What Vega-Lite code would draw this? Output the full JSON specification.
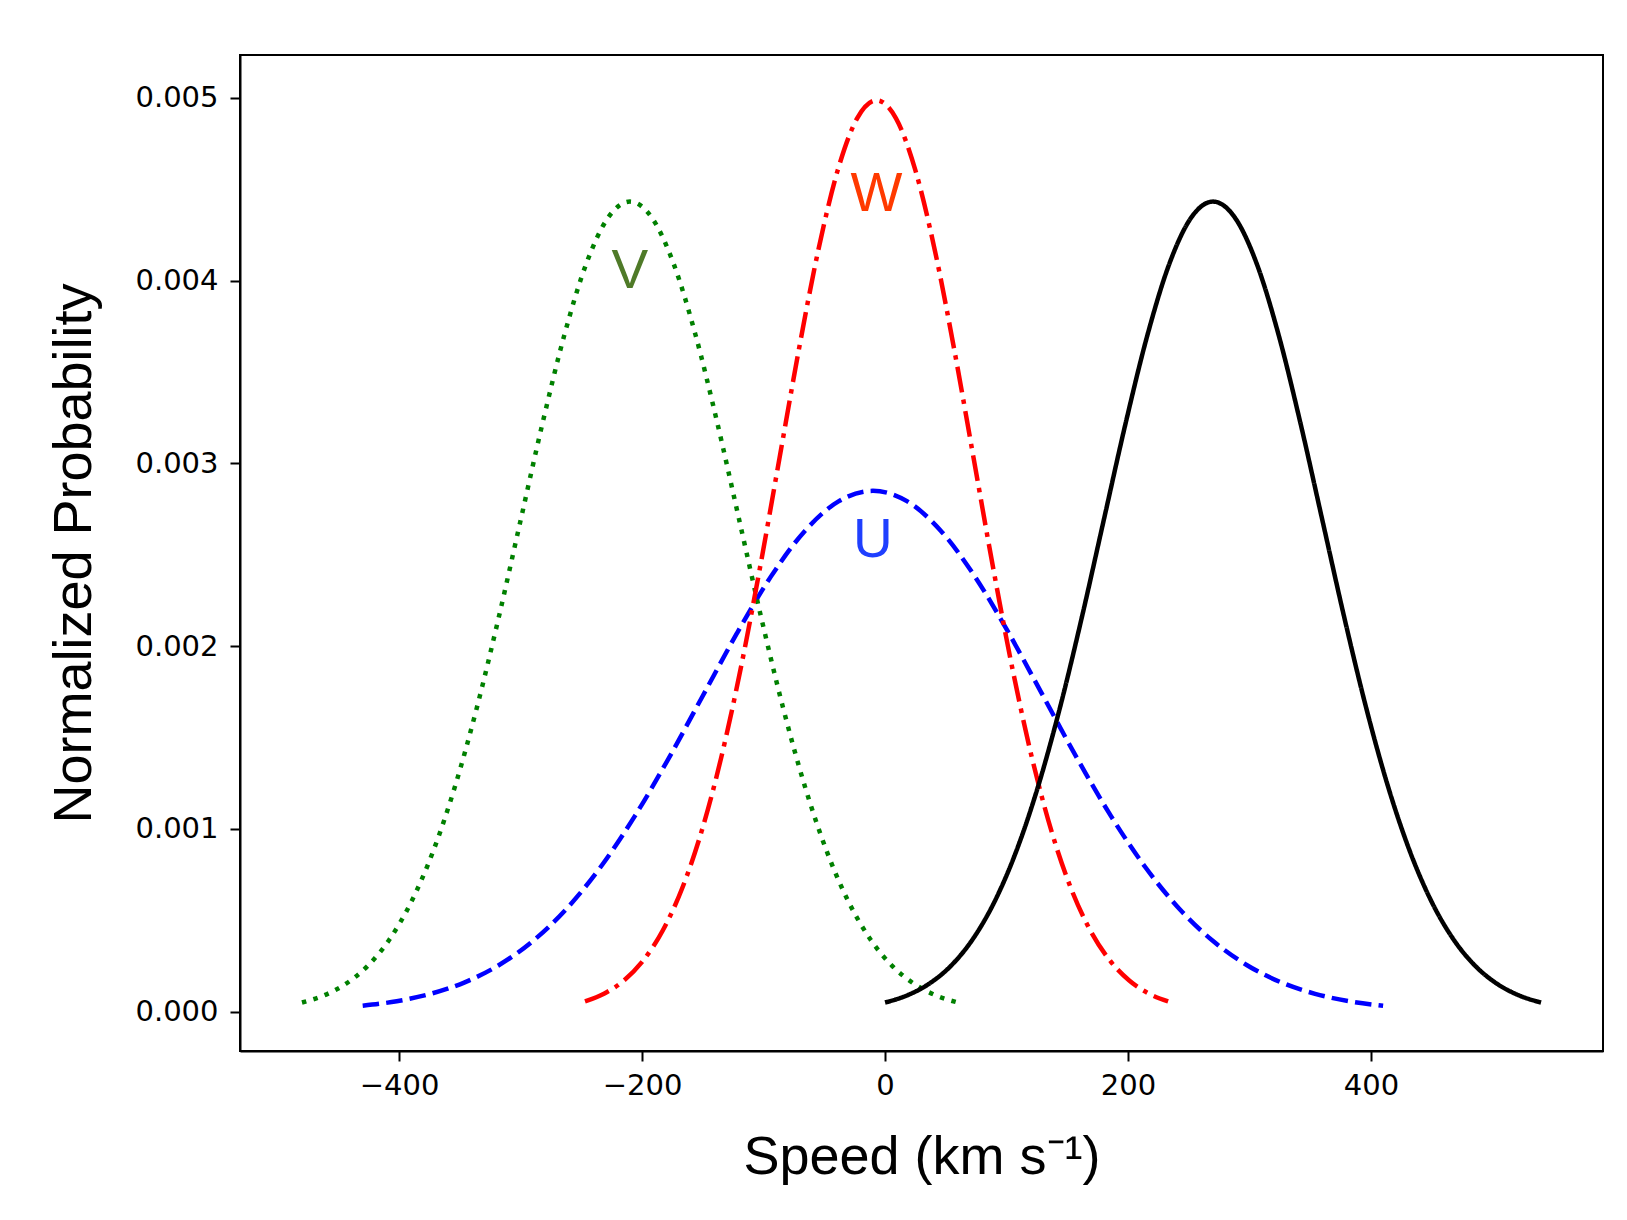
{
  "$schema": "https://vega.github.io/schema/vega-lite/v6.json",
  "width": 1363,
  "height": 996,
  "autosize": {"type": "none"},
  "padding": {"left": 240, "top": 55, "right": 24, "bottom": 169},
  "background": "white",
  "config": {
    "view": {"stroke": "black", "strokeWidth": 2},
    "axis": {
      "grid": false,
      "domainColor": "black",
      "domainWidth": 2,
      "tickColor": "black",
      "tickWidth": 2,
      "tickSize": 10,
      "labelFont": "DejaVu Sans",
      "labelFontSize": 29,
      "labelColor": "black",
      "labelOverlap": false,
      "titleFont": "Liberation Sans",
      "titleFontSize": 54,
      "titleFontWeight": "normal",
      "titleColor": "black"
    }
  },
  "datasets": {
    "curves": [
      {"s": "U", "x": -430, "y": 0.000031659},
      {"s": "U", "x": -402, "y": 0.000056536},
      {"s": "U", "x": -374, "y": 0.000097029},
      {"s": "U", "x": -346, "y": 0.00015995},
      {"s": "U", "x": -318, "y": 0.00025339},
      {"s": "U", "x": -290, "y": 0.00038567},
      {"s": "U", "x": -262, "y": 0.00056394},
      {"s": "U", "x": -234, "y": 0.00079231},
      {"s": "U", "x": -206, "y": 0.0010695},
      {"s": "U", "x": -178, "y": 0.001387},
      {"s": "U", "x": -150, "y": 0.0017284},
      {"s": "U", "x": -122, "y": 0.0020692},
      {"s": "U", "x": -94, "y": 0.0023802},
      {"s": "U", "x": -66, "y": 0.0026305},
      {"s": "U", "x": -38, "y": 0.0027932},
      {"s": "U", "x": -10, "y": 0.0028496},
      {"s": "U", "x": 18, "y": 0.0027932},
      {"s": "U", "x": 46, "y": 0.0026305},
      {"s": "U", "x": 74, "y": 0.0023802},
      {"s": "U", "x": 102, "y": 0.0020692},
      {"s": "U", "x": 130, "y": 0.0017284},
      {"s": "U", "x": 158, "y": 0.001387},
      {"s": "U", "x": 186, "y": 0.0010695},
      {"s": "U", "x": 214, "y": 0.00079231},
      {"s": "U", "x": 242, "y": 0.00056394},
      {"s": "U", "x": 270, "y": 0.00038567},
      {"s": "U", "x": 298, "y": 0.00025339},
      {"s": "U", "x": 326, "y": 0.00015995},
      {"s": "U", "x": 354, "y": 0.000097029},
      {"s": "U", "x": 382, "y": 0.000056536},
      {"s": "U", "x": 410, "y": 0.000031659},

      {"s": "V", "x": -480, "y": 0.000049247},
      {"s": "V", "x": -462, "y": 0.000087945},
      {"s": "V", "x": -444, "y": 0.00015093},
      {"s": "V", "x": -426, "y": 0.00024881},
      {"s": "V", "x": -408, "y": 0.00039416},
      {"s": "V", "x": -390, "y": 0.00059992},
      {"s": "V", "x": -372, "y": 0.00087723},
      {"s": "V", "x": -354, "y": 0.0012325},
      {"s": "V", "x": -336, "y": 0.0016636},
      {"s": "V", "x": -318, "y": 0.0021576},
      {"s": "V", "x": -300, "y": 0.0026886},
      {"s": "V", "x": -282, "y": 0.0032188},
      {"s": "V", "x": -264, "y": 0.0037025},
      {"s": "V", "x": -246, "y": 0.0040919},
      {"s": "V", "x": -228, "y": 0.0043449},
      {"s": "V", "x": -210, "y": 0.0044327},
      {"s": "V", "x": -192, "y": 0.0043449},
      {"s": "V", "x": -174, "y": 0.0040919},
      {"s": "V", "x": -156, "y": 0.0037025},
      {"s": "V", "x": -138, "y": 0.0032188},
      {"s": "V", "x": -120, "y": 0.0026886},
      {"s": "V", "x": -102, "y": 0.0021576},
      {"s": "V", "x": -84, "y": 0.0016636},
      {"s": "V", "x": -66, "y": 0.0012325},
      {"s": "V", "x": -48, "y": 0.00087723},
      {"s": "V", "x": -30, "y": 0.00059992},
      {"s": "V", "x": -12, "y": 0.00039416},
      {"s": "V", "x": 6, "y": 0.00024881},
      {"s": "V", "x": 24, "y": 0.00015093},
      {"s": "V", "x": 42, "y": 0.000087945},
      {"s": "V", "x": 60, "y": 0.000049247},

      {"s": "W", "x": -247, "y": 0.000055403},
      {"s": "W", "x": -231, "y": 0.000098938},
      {"s": "W", "x": -215, "y": 0.0001698},
      {"s": "W", "x": -199, "y": 0.00027991},
      {"s": "W", "x": -183, "y": 0.00044343},
      {"s": "W", "x": -167, "y": 0.00067491},
      {"s": "W", "x": -151, "y": 0.00098689},
      {"s": "W", "x": -135, "y": 0.0013865},
      {"s": "W", "x": -119, "y": 0.0018716},
      {"s": "W", "x": -103, "y": 0.0024273},
      {"s": "W", "x": -87, "y": 0.0030246},
      {"s": "W", "x": -71, "y": 0.0036212},
      {"s": "W", "x": -55, "y": 0.0041653},
      {"s": "W", "x": -39, "y": 0.0046034},
      {"s": "W", "x": -23, "y": 0.0048881},
      {"s": "W", "x": -7, "y": 0.0049868},
      {"s": "W", "x": 9, "y": 0.0048881},
      {"s": "W", "x": 25, "y": 0.0046034},
      {"s": "W", "x": 41, "y": 0.0041653},
      {"s": "W", "x": 57, "y": 0.0036212},
      {"s": "W", "x": 73, "y": 0.0030246},
      {"s": "W", "x": 89, "y": 0.0024273},
      {"s": "W", "x": 105, "y": 0.0018716},
      {"s": "W", "x": 121, "y": 0.0013865},
      {"s": "W", "x": 137, "y": 0.00098689},
      {"s": "W", "x": 153, "y": 0.00067491},
      {"s": "W", "x": 169, "y": 0.00044343},
      {"s": "W", "x": 185, "y": 0.00027991},
      {"s": "W", "x": 201, "y": 0.0001698},
      {"s": "W", "x": 217, "y": 0.000098938},
      {"s": "W", "x": 233, "y": 0.000055403},

      {"s": "T", "x": 0, "y": 0.000049247},
      {"s": "T", "x": 18, "y": 0.000087945},
      {"s": "T", "x": 36, "y": 0.00015093},
      {"s": "T", "x": 54, "y": 0.00024881},
      {"s": "T", "x": 72, "y": 0.00039416},
      {"s": "T", "x": 90, "y": 0.00059992},
      {"s": "T", "x": 108, "y": 0.00087723},
      {"s": "T", "x": 126, "y": 0.0012325},
      {"s": "T", "x": 144, "y": 0.0016636},
      {"s": "T", "x": 162, "y": 0.0021576},
      {"s": "T", "x": 180, "y": 0.0026886},
      {"s": "T", "x": 198, "y": 0.0032188},
      {"s": "T", "x": 216, "y": 0.0037025},
      {"s": "T", "x": 234, "y": 0.0040919},
      {"s": "T", "x": 252, "y": 0.0043449},
      {"s": "T", "x": 270, "y": 0.0044327},
      {"s": "T", "x": 288, "y": 0.0043449},
      {"s": "T", "x": 306, "y": 0.0040919},
      {"s": "T", "x": 324, "y": 0.0037025},
      {"s": "T", "x": 342, "y": 0.0032188},
      {"s": "T", "x": 360, "y": 0.0026886},
      {"s": "T", "x": 378, "y": 0.0021576},
      {"s": "T", "x": 396, "y": 0.0016636},
      {"s": "T", "x": 414, "y": 0.0012325},
      {"s": "T", "x": 432, "y": 0.00087723},
      {"s": "T", "x": 450, "y": 0.00059992},
      {"s": "T", "x": 468, "y": 0.00039416},
      {"s": "T", "x": 486, "y": 0.00024881},
      {"s": "T", "x": 504, "y": 0.00015093},
      {"s": "T", "x": 522, "y": 0.000087945},
      {"s": "T", "x": 540, "y": 0.000049247}
    ],
    "labels": [
      {"label": "W", "x": -7, "y": 0.00438},
      {"label": "V", "x": -210, "y": 0.00396},
      {"label": "U", "x": -10, "y": 0.00249}
    ]
  },
  "encoding": {
    "x": {
      "field": "x",
      "type": "quantitative",
      "title": "Speed (km s⁻¹)",
      "scale": {"domain": [-531, 591], "nice": false, "zero": false},
      "axis": {
        "values": [-400, -200, 0, 200, 400],
        "labelPadding": 10,
        "titlePadding": 30
      }
    },
    "y": {
      "field": "y",
      "type": "quantitative",
      "title": "Normalized Probability",
      "scale": {"domain": [-0.000216, 0.005235], "nice": false, "zero": false},
      "axis": {
        "values": [0, 0.001, 0.002, 0.003, 0.004, 0.005],
        "format": ".3f",
        "labelPadding": 12,
        "titlePadding": 33
      }
    }
  },
  "layer": [
    {
      "data": {"name": "curves"},
      "mark": {"type": "line", "interpolate": "monotone", "strokeWidth": 4.5, "strokeCap": "butt"},
      "encoding": {
        "color": {
          "field": "s",
          "type": "nominal",
          "scale": {"domain": ["U", "V", "W", "T"], "range": ["#0000ff", "#008000", "#ff0000", "#000000"]},
          "legend": null
        },
        "strokeDash": {
          "field": "s",
          "type": "nominal",
          "scale": {"domain": ["U", "V", "W", "T"], "range": [[16.5, 7.2], [4.5, 7.4], [26, 7.2, 4.5, 7.2], [1, 0]]},
          "legend": null
        }
      }
    },
    {
      "data": {"name": "labels"},
      "mark": {"type": "text", "font": "Liberation Sans", "fontSize": 55, "align": "center", "baseline": "alphabetic"},
      "encoding": {
        "text": {"field": "label", "type": "nominal"},
        "color": {
          "field": "label",
          "type": "nominal",
          "scale": {"domain": ["U", "V", "W"], "range": ["#1f3fff", "#4f7a28", "#ff3a00"]},
          "legend": null
        }
      }
    }
  ],
  "resolve": {"scale": {"color": "independent"}}
}
